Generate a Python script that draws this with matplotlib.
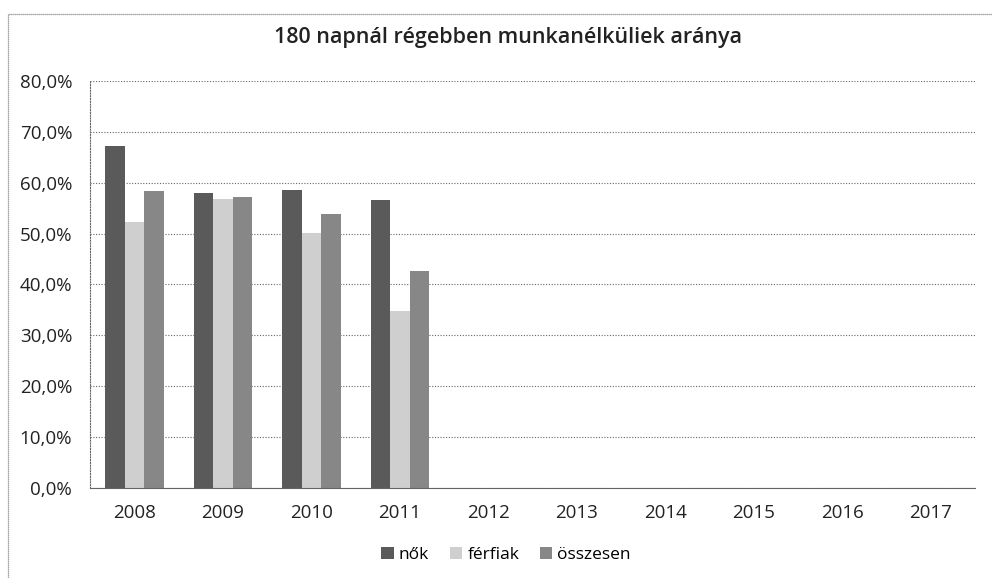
import matplotlib
matplotlib.use("Agg")
import matplotlib.pyplot as plt
from matplotlib.ticker import FuncFormatter
from matplotlib.lines import Line2D
import numpy as np

plt.rcParams['font.family'] = ['Open Sans', 'DejaVu Sans']

years = ["2008", "2009", "2010", "2011", "2012", "2013", "2014", "2015", "2016", "2017"]
nok = [67.2, 58.0, 58.5, 56.6, 0, 0, 0, 0, 0, 0]
ferfiak = [52.2, 56.8, 50.1, 34.8, 0, 0, 0, 0, 0, 0]
osszesen = [58.4, 57.2, 53.8, 42.6, 0, 0, 0, 0, 0, 0]
series_names = ["nők", "férfiak", "összesen"]

fig = plt.figure(figsize=(9.92, 5.78), dpi=100)
# chart frame (only left and top edges visible in the scan)
fig.lines.append(Line2D([0.008, 0.008], [0.0, 0.976], transform=fig.transFigure,
                        color="#888888", linewidth=0.9, linestyle=(0, (1, 0.6))))
fig.lines.append(Line2D([0.008, 1.0], [0.976, 0.976], transform=fig.transFigure,
                        color="#888888", linewidth=0.9, linestyle=(0, (1, 0.6))))

ax = fig.add_axes([0.091, 0.156, 0.892, 0.704])
x = np.arange(len(years))
w = 0.222
colors = ["#5a5a5a", "#cfcfcf", "#878787"]
for i, (vals, col) in enumerate(zip([nok, ferfiak, osszesen], colors)):
    ax.bar(x + (i - 1) * w, vals, width=w, color=col, linewidth=0,
           label=series_names[i])

ax.set_xlim(-0.5, len(years) - 0.5)
ax.set_ylim(0, 80)
ax.set_yticks(np.arange(0, 81, 10))
ax.yaxis.set_major_formatter(FuncFormatter(lambda v, p: f"{v:.1f}%".replace(".", ",")))
ax.set_xticks(x)
ax.set_xticklabels(years)
ax.tick_params(axis="both", labelsize=13.5, colors="#222222", length=0)
ax.tick_params(axis="y", pad=13)
ax.tick_params(axis="x", pad=12)

ax.grid(axis="y", linestyle=(0, (1, 1.5)), color="#666666", linewidth=0.8)
ax.set_axisbelow(True)
for s in ["top", "right"]:
    ax.spines[s].set_visible(False)
ax.spines["left"].set_linestyle((0, (1, 1.5)))
ax.spines["left"].set_color("#666666")
ax.spines["bottom"].set_color("#666666")

fig.text(0.512, 0.935, "180 napnál régebben munkanélküliek aránya", ha="center",
         va="center", fontsize=15.5, fontweight="semibold", color="#222222")

ax.legend(loc="center", bbox_to_anchor=(0.47, -0.165), ncol=3, frameon=False,
          fontsize=12.5, handlelength=0.7, handleheight=0.7, handletextpad=0.3,
          columnspacing=1.2)

fig.savefig("out.png", dpi=100)
